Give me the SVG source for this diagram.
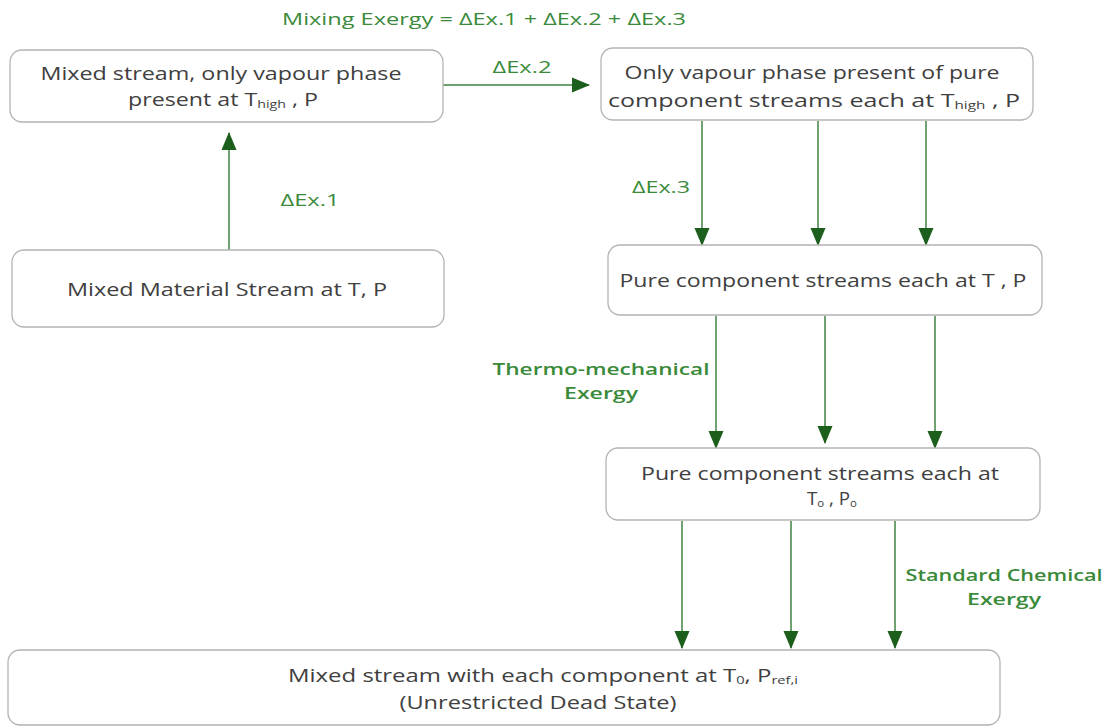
<svg xmlns="http://www.w3.org/2000/svg" width="1110" height="727" viewBox="0 0 1110 727">
  <style>
    .box { fill: #ffffff; stroke: #b4b4b4; stroke-width: 1.3; }
    .txt { font-family: "Open Sans", "DejaVu Sans", sans-serif; font-size: 18px; fill: #404040; text-anchor: middle; }
    .lbl { font-family: "Open Sans", "DejaVu Sans", sans-serif; font-size: 16px; font-weight: 600; fill: #3a8a3a; text-anchor: middle; }
    .eq { font-family: "Open Sans", "DejaVu Sans", sans-serif; font-size: 17px; font-weight: 400; fill: #3a8a3a; text-anchor: middle; }
    .sub { font-size: 11px; }
    .con { stroke: #3f803f; stroke-width: 1.5; fill: none; marker-end: url(#head); }
  </style>
  <defs>
    <marker id="head" markerWidth="18" markerHeight="16" refX="17" refY="8" orient="auto" markerUnits="userSpaceOnUse">
      <path d="M0,0.5 L18,8 L0,15.5 Z" fill="#1c5e1c"/>
    </marker>
  </defs>
  <rect width="1110" height="727" fill="#ffffff"/>

  <!-- overall title -->
  <text class="eq" x="484" y="25" font-size="18" textLength="404" lengthAdjust="spacingAndGlyphs">Mixing Exergy = ΔEx.1 + ΔEx.2 + ΔEx.3</text>

  <!-- connectors -->
  <g id="connectors">
    <line class="con" x1="229" y1="250" x2="229" y2="133"/>
    <line class="con" x1="443" y1="85" x2="589" y2="85"/>
    <line class="con" x1="702" y1="121" x2="702" y2="245"/>
    <line class="con" x1="818" y1="121" x2="818" y2="245"/>
    <line class="con" x1="926" y1="121" x2="926" y2="245"/>
    <line class="con" x1="716" y1="316" x2="716" y2="448"/>
    <line class="con" x1="825" y1="316" x2="825" y2="443"/>
    <line class="con" x1="935" y1="316" x2="935" y2="448"/>
    <line class="con" x1="682" y1="521" x2="682" y2="648"/>
    <line class="con" x1="791" y1="521" x2="791" y2="648"/>
    <line class="con" x1="895" y1="521" x2="895" y2="648"/>
    <text class="eq" x="310" y="206" textLength="59" lengthAdjust="spacingAndGlyphs">ΔEx.1</text>
    <text class="eq" x="522" y="73" textLength="59" lengthAdjust="spacingAndGlyphs">ΔEx.2</text>
    <text class="eq" x="661" y="193" textLength="58" lengthAdjust="spacingAndGlyphs">ΔEx.3</text>
    <text class="lbl" x="601" y="375" textLength="217" lengthAdjust="spacingAndGlyphs">Thermo-mechanical</text>
    <text class="lbl" x="601" y="399" textLength="74" lengthAdjust="spacingAndGlyphs">Exergy</text>
    <text class="lbl" x="1004" y="581" textLength="197" lengthAdjust="spacingAndGlyphs">Standard Chemical</text>
    <text class="lbl" x="1004" y="605" textLength="74" lengthAdjust="spacingAndGlyphs">Exergy</text>
  </g>

  <g id="node-vapour-mixed">
    <rect class="box" x="10" y="50" width="433" height="72" rx="12"/>
    <text class="txt" x="221" y="80" textLength="361" lengthAdjust="spacingAndGlyphs">Mixed stream, only vapour phase</text>
    <text class="txt" x="223" y="106" textLength="190" lengthAdjust="spacingAndGlyphs">present at T<tspan class="sub" dy="2">high</tspan><tspan dy="-2">   , P</tspan></text>
  </g>

  <g id="node-mixed-material">
    <rect class="box" x="12" y="250" width="432" height="77" rx="12"/>
    <text class="txt" x="227" y="296" textLength="320" lengthAdjust="spacingAndGlyphs">Mixed Material Stream at T, P</text>
  </g>

  <g id="node-vapour-pure">
    <rect class="box" x="601" y="48" width="432" height="72" rx="12"/>
    <text class="txt" x="812" y="79" textLength="375" lengthAdjust="spacingAndGlyphs">Only vapour phase present of pure</text>
    <text class="txt" x="814" y="107" textLength="412" lengthAdjust="spacingAndGlyphs">component streams each at T<tspan class="sub" dy="2">high</tspan><tspan dy="-2">   , P</tspan></text>
  </g>

  <g id="node-pure-tp">
    <rect class="box" x="608" y="245" width="434" height="70" rx="12"/>
    <text class="txt" x="823" y="287" textLength="407" lengthAdjust="spacingAndGlyphs">Pure component streams each at T , P</text>
  </g>

  <g id="node-pure-t0p0">
    <rect class="box" x="606" y="448" width="434" height="72" rx="12"/>
    <text class="txt" x="820" y="480" textLength="358" lengthAdjust="spacingAndGlyphs">Pure component streams each at</text>
    <text class="txt" x="832" y="505" textLength="50" lengthAdjust="spacingAndGlyphs">T<tspan class="sub" dy="2">o</tspan><tspan dy="-2"> , P</tspan><tspan class="sub" dy="2">o</tspan></text>
  </g>

  <g id="node-dead-state">
    <rect class="box" x="8" y="650" width="992" height="75" rx="12"/>
    <text class="txt" x="543" y="682" textLength="510" lengthAdjust="spacingAndGlyphs">Mixed stream with each component at T<tspan class="sub" dy="2">0</tspan><tspan dy="-2">, P</tspan><tspan class="sub" dy="2">ref,i</tspan></text>
    <text class="txt" x="538" y="709" textLength="277" lengthAdjust="spacingAndGlyphs">(Unrestricted Dead State)</text>
  </g>
</svg>
